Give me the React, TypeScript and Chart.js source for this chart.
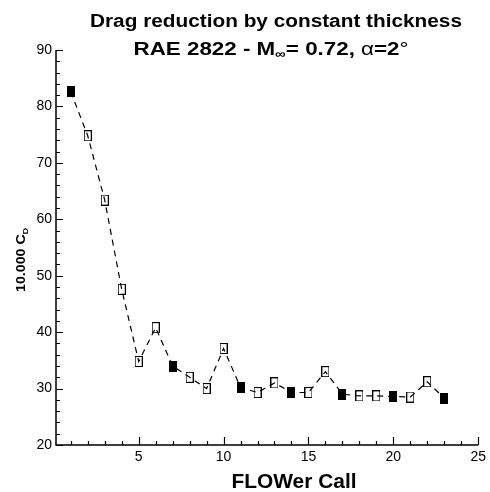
import React, { useEffect, useRef } from 'react';
import { Chart, registerables } from 'chart.js';

Chart.register(...registerables);

// ---- data ----
const flowerCalls = [1, 2, 3, 4, 5, 6, 7, 8, 9, 10, 11, 12, 13, 14, 15, 16, 17, 18, 19, 20, 21, 22, 23];
const dragCounts = [82.6, 74.8, 63.4, 47.6, 34.8, 40.8, 34.0, 32.0, 30.0, 37.1, 30.2, 29.3, 31.0, 29.3, 29.3, 33.0, 29.0, 28.7, 28.7, 28.6, 28.5, 31.2, 28.3];
const filledMarker = [true, false, false, false, false, false, true, false, false, false, true, false, false, true, false, false, true, false, false, true, false, false, true];
const xTickValues = [5, 10, 15, 20, 25];
const yTickValues = [20, 30, 40, 50, 60, 70, 80, 90];

const FONT = '"Liberation Sans", Arial, Helvetica, sans-serif';

type Run = { t: string; font: string; dy?: number };

function drawRuns(ctx: CanvasRenderingContext2D, runs: Run[], cx: number, baseline: number, targetW?: number) {
  const widths = runs.map((r) => {
    ctx.font = r.font;
    return ctx.measureText(r.t).width;
  });
  const total = widths.reduce((a, b) => a + b, 0);
  const sx = targetW ? targetW / total : 1;
  ctx.save();
  ctx.translate(cx, baseline);
  ctx.scale(sx, 1);
  ctx.fillStyle = '#000';
  ctx.textAlign = 'left';
  ctx.textBaseline = 'alphabetic';
  let x = -total / 2;
  runs.forEach((r, i) => {
    ctx.font = r.font;
    ctx.fillText(r.t, x, r.dy || 0);
    x += widths[i];
  });
  ctx.restore();
}

function makeMarker(filled: boolean): HTMLCanvasElement {
  const c = document.createElement('canvas');
  c.width = 8;
  c.height = 11;
  const g = c.getContext('2d')!;
  if (filled) {
    g.fillStyle = '#000';
    g.fillRect(0, 0, 8, 11);
  } else {
    g.strokeStyle = '#000';
    g.lineWidth = 1;
    g.strokeRect(0.5, 0.5, 7, 10);
  }
  return c;
}

const decorPlugin = {
  id: 'decor',
  afterDraw(chart: any) {
    const ctx: CanvasRenderingContext2D = chart.ctx;
    const { left, right, top, bottom } = chart.chartArea;
    const xs = chart.scales.x;
    const ys = chart.scales.y;
    ctx.save();
    ctx.strokeStyle = '#000';
    ctx.lineWidth = 1.5;
    ctx.beginPath();
    ctx.moveTo(left, top);
    ctx.lineTo(left, bottom);
    ctx.lineTo(right, bottom);
    ctx.stroke();
    ctx.lineWidth = 1.2;
    ctx.beginPath();
    for (let v = 20; v <= 90; v += 2) {
      const py = Math.round(ys.getPixelForValue(v)) + 0.5;
      const len = v % 10 === 0 ? 7 : 4;
      ctx.moveTo(left, py);
      ctx.lineTo(left + len, py);
    }
    for (let v = 1; v <= 25; v += 1) {
      const px = Math.round(xs.getPixelForValue(v)) + 0.5;
      const len = v % 5 === 0 ? 8 : 4;
      ctx.moveTo(px, bottom);
      ctx.lineTo(px, bottom - len);
    }
    ctx.stroke();
    ctx.restore();

    const B = (s: number) => `bold ${s}px ${FONT}`;
    const N = (s: number) => `${s}px ${FONT}`;
    drawRuns(ctx, [{ t: 'Drag reduction by constant thickness', font: B(18) }], 276, 27, 372);
    drawRuns(
      ctx,
      [
        { t: 'RAE 2822 - M', font: B(18) },
        { t: '\u221E', font: B(12), dy: 3 },
        { t: '= 0.72, ', font: B(18) },
        { t: '\u03B1', font: N(18) },
        { t: '=2', font: B(18) },
        { t: '\u00B0', font: N(18) },
      ],
      271,
      55,
      275
    );
    drawRuns(ctx, [{ t: 'FLOWer Call', font: B(20) }], 294, 488, 125);

    ctx.save();
    ctx.translate(25, 260);
    ctx.rotate(-Math.PI / 2);
    drawRuns(
      ctx,
      [
        { t: '10.000 C', font: B(13) },
        { t: 'D', font: B(8), dy: 3 },
      ],
      0,
      0,
      64
    );
    ctx.restore();
  },
};

export default function App() {
  const ref = useRef<HTMLCanvasElement | null>(null);
  useEffect(() => {
    document.body.style.margin = '0';
    const canvas = ref.current!;
    const points = flowerCalls.map((x, i) => ({ x, y: dragCounts[i] }));
    const markers = filledMarker.map((f) => makeMarker(f));
    const chart = new Chart(canvas, {
      type: 'line',
      data: {
        datasets: [
          {
            data: points,
            borderColor: '#000',
            borderWidth: 1.2,
            borderDash: [6, 5],
            tension: 0,
            fill: false,
            pointStyle: markers as any,
            pointRadius: 4,
            pointHoverRadius: 4,
          },
        ],
      },
      options: {
        animation: false,
        responsive: false,
        events: [],
        layout: { padding: { top: 50, right: 10, left: 0, bottom: 0 } },
        plugins: { legend: { display: false }, tooltip: { enabled: false }, title: { display: false } },
        scales: {
          x: {
            type: 'linear',
            min: 0.13,
            max: 25,
            grid: { display: false, drawTicks: false },
            border: { display: false },
            afterBuildTicks: (s: any) => {
              s.ticks = xTickValues.map((v) => ({ value: v }));
            },
            afterFit: (s: any) => {
              s.height = 47;
            },
            ticks: {
              color: '#000',
              font: { family: FONT, size: 14 },
              padding: 4,
              maxRotation: 0,
              autoSkip: false,
            },
          },
          y: {
            type: 'linear',
            min: 20,
            max: 90,
            grid: { display: false, drawTicks: false },
            border: { display: false },
            afterBuildTicks: (s: any) => {
              s.ticks = yTickValues.map((v) => ({ value: v }));
            },
            afterFit: (s: any) => {
              s.width = 56;
            },
            ticks: {
              color: '#000',
              font: { family: FONT, size: 14 },
              padding: 4,
              autoSkip: false,
            },
          },
        },
      },
      plugins: [decorPlugin],
    });
    return () => chart.destroy();
  }, []);
  return (
    <div style={{ width: 490, height: 492, background: '#fff' }}>
      <canvas ref={ref} width={490} height={492} style={{ display: 'block' }} />
    </div>
  );
}
